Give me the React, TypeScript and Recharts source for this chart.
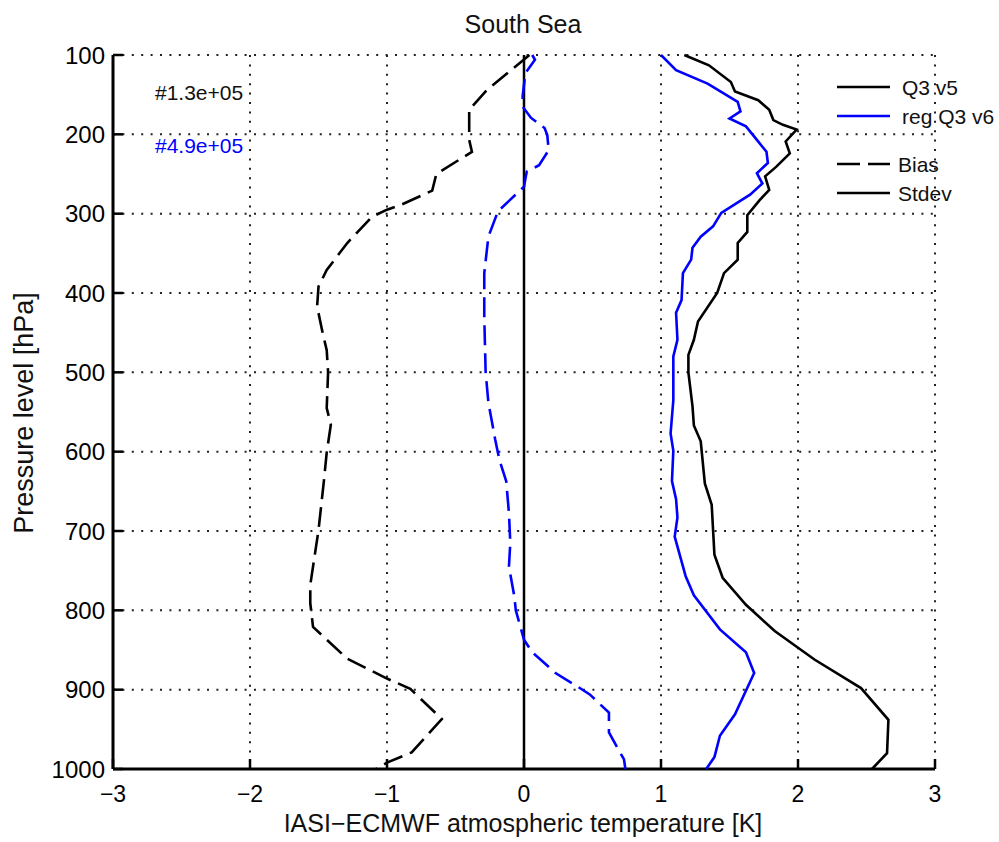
import { ScatterChart, Scatter, XAxis, YAxis, CartesianGrid, ReferenceLine } from 'recharts';

// pressure level [hPa] and value [K] pairs
const v5Bias = [
  [100, 0.04], [144, -0.27], [169, -0.4], [207, -0.4], [222, -0.38], [250, -0.64], [271, -0.67],
  [289, -0.9], [295, -1.0], [304, -1.11], [337, -1.29], [371, -1.44], [392, -1.5], [417, -1.51],
  [450, -1.47], [472, -1.44], [500, -1.43], [545, -1.44], [566, -1.41], [601, -1.44], [636, -1.46],
  [699, -1.5], [768, -1.56], [791, -1.56], [821, -1.54], [861, -1.29], [886, -1.0], [899, -0.83],
  [937, -0.6], [979, -0.82], [992, -1.0], [1000, -1.08],
];
const v6Bias = [
  [100, 0.06], [106, 0.08], [123, 0.01], [152, -0.01], [165, -0.01], [179, 0.05], [192, 0.15],
  [201, 0.17], [220, 0.18], [239, 0.11], [247, 0.02], [266, 0.0], [297, -0.19], [329, -0.26],
  [375, -0.29], [430, -0.29], [500, -0.28], [538, -0.26], [585, -0.21], [610, -0.18], [637, -0.13],
  [677, -0.11], [715, -0.1], [745, -0.11], [783, -0.07], [800, -0.06], [837, 0.0], [853, 0.06],
  [862, 0.12], [879, 0.23], [896, 0.39], [906, 0.48], [929, 0.62], [954, 0.62], [988, 0.73], [1000, 0.74],
];
const v5Stdev = [
  [100, 1.17], [113, 1.35], [134, 1.51], [146, 1.54], [157, 1.71], [169, 1.79], [182, 1.82],
  [188, 1.89], [194, 1.99], [209, 1.91], [224, 1.94], [241, 1.84], [253, 1.76], [270, 1.79],
  [283, 1.72], [302, 1.63], [323, 1.63], [337, 1.56], [358, 1.56], [375, 1.46], [400, 1.41],
  [436, 1.27], [459, 1.24], [478, 1.2], [500, 1.2], [543, 1.23], [567, 1.24], [587, 1.29],
  [640, 1.32], [667, 1.37], [730, 1.39], [759, 1.45], [793, 1.62], [826, 1.83], [862, 2.12],
  [898, 2.46], [938, 2.66], [980, 2.65], [1000, 2.54],
];
const v6Stdev = [
  [100, 1.0], [119, 1.11], [136, 1.34], [159, 1.56], [171, 1.58], [180, 1.5], [190, 1.62],
  [207, 1.7], [222, 1.77], [236, 1.78], [249, 1.7], [262, 1.74], [276, 1.65], [299, 1.44],
  [316, 1.38], [329, 1.29], [343, 1.23], [358, 1.22], [375, 1.16], [409, 1.15], [425, 1.11],
  [459, 1.12], [480, 1.09], [535, 1.09], [577, 1.07], [599, 1.09], [637, 1.08], [660, 1.11],
  [683, 1.12], [707, 1.1], [757, 1.18], [781, 1.24], [824, 1.43], [853, 1.62], [879, 1.68],
  [931, 1.54], [958, 1.43], [985, 1.39], [1000, 1.33],
];

const xTicks = [-3, -2, -1, 0, 1, 2, 3];
const pTicks = [100, 200, 300, 400, 500, 600, 700, 800, 900, 1000];
const counts = ['#1.3e+05', '#4.9e+05'];
const seriesNames = ['Q3 v5', 'reg Q3 v6'];
const styleNames = ['Bias', 'Stdev'];

const FONT = '"Liberation Sans", Arial, Helvetica, sans-serif';
const BLUE = '#0000ff';
const DASH = '20 8';

const toPts = (rows: number[][]) => rows.map(([p, x]) => ({ p, x }));
const NoDot = () => null;

export default function App() {
  return (
    <div style={{ position: 'absolute', left: 0, top: 0, width: 999, height: 842, background: '#fff' }}>
      <ScatterChart width={999} height={842} margin={{ top: 55, right: 64, left: 0, bottom: 0 }}>
        <CartesianGrid stroke="#222" strokeWidth={2} strokeDasharray="2 7.4" />
        <XAxis
          type="number"
          dataKey="x"
          domain={[-3, 3]}
          ticks={xTicks}
          interval={0}
          height={73}
          axisLine={{ stroke: '#000', strokeWidth: 3 }}
          tickLine={{ stroke: '#000', strokeWidth: 2.5 }}
          tickSize={-10}
          tickMargin={27}
          tick={{ fill: '#000', fontSize: 23, fontFamily: FONT }}
          tickFormatter={(v: number) => (v < 0 ? '\u2212' + Math.abs(v) : String(v))}
        />
        <YAxis
          type="number"
          dataKey="p"
          domain={[100, 1000]}
          reversed
          ticks={pTicks}
          interval={0}
          width={113}
          axisLine={{ stroke: '#000', strokeWidth: 3 }}
          tickLine={{ stroke: '#000', strokeWidth: 2.5 }}
          tickSize={-10}
          tickMargin={18}
          tick={{ fill: '#000', fontSize: 24, fontFamily: FONT }}
        />
        <ReferenceLine x={0} stroke="#000" strokeWidth={2.5} />
        <Scatter data={toPts(v5Bias)} shape={NoDot} line={{ stroke: '#000', strokeWidth: 2.6, strokeDasharray: DASH }} isAnimationActive={false} />
        <Scatter data={toPts(v6Bias)} shape={NoDot} line={{ stroke: BLUE, strokeWidth: 2.6, strokeDasharray: DASH }} isAnimationActive={false} />
        <Scatter data={toPts(v5Stdev)} shape={NoDot} line={{ stroke: '#000', strokeWidth: 2.6 }} isAnimationActive={false} />
        <Scatter data={toPts(v6Stdev)} shape={NoDot} line={{ stroke: BLUE, strokeWidth: 2.6 }} isAnimationActive={false} />
      </ScatterChart>

      <svg width={999} height={842} style={{ position: 'absolute', left: 0, top: 0, pointerEvents: 'none' }} fontFamily={FONT}>
        <text x={523} y={33} textAnchor="middle" fontSize={25} fill="#111">South Sea</text>
        <text x={523} y={832} textAnchor="middle" fontSize={25} fill="#111">IASI{'\u2212'}ECMWF atmospheric temperature [K]</text>
        <text transform="translate(33,413) rotate(-90)" textAnchor="middle" fontSize={27} fill="#111">Pressure level [hPa]</text>

        <text x={155} y={100} fontSize={21} fill="#111">{counts[0]}</text>
        <text x={155} y={153} fontSize={21} fill={BLUE}>{counts[1]}</text>

        <line x1={837} x2={890} y1={87} y2={87} stroke="#000" strokeWidth={2.6} />
        <text x={902} y={95} fontSize={21} fill="#111">{seriesNames[0]}</text>
        <line x1={837} x2={890} y1={116} y2={116} stroke={BLUE} strokeWidth={2.6} />
        <text x={902} y={124} fontSize={21} fill="#111">{seriesNames[1]}</text>
        <line x1={837} x2={890} y1={164} y2={164} stroke="#000" strokeWidth={2.6} strokeDasharray="23 8" />
        <text x={898} y={172} fontSize={21} fill="#111">{styleNames[0]}</text>
        <line x1={837} x2={890} y1={193} y2={193} stroke="#000" strokeWidth={2.6} />
        <text x={898} y={201} fontSize={21} fill="#111">{styleNames[1]}</text>
      </svg>
    </div>
  );
}
